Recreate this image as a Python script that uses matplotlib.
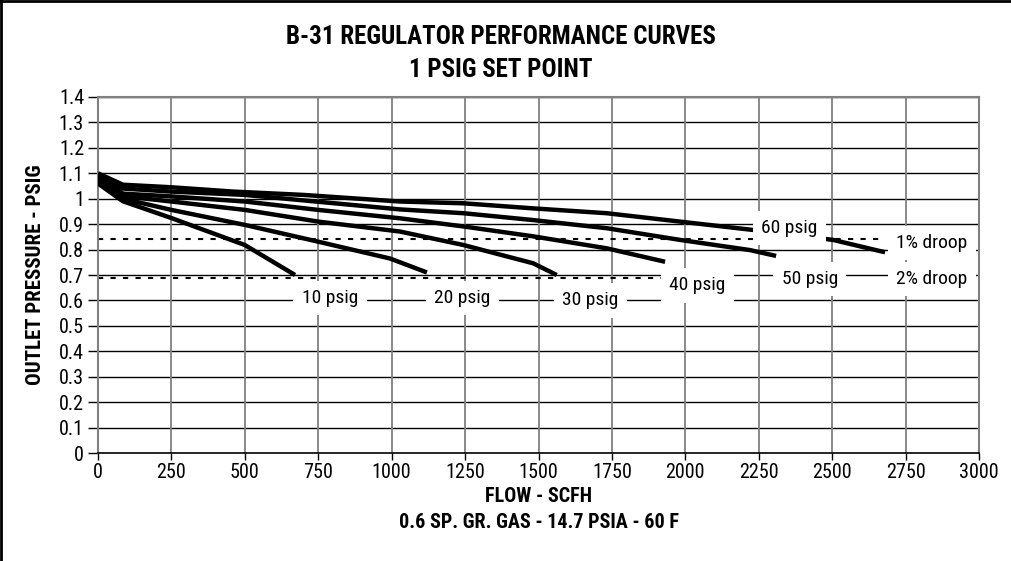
"""
B-31 regulator performance curves, 1 psig set point.
Outlet pressure vs flow for several inlet pressures, with 1% / 2% droop lines.
"""

import matplotlib
matplotlib.use("Agg")
import matplotlib.pyplot as plt
from matplotlib.font_manager import findfont, FontProperties

# --- data ----------------------------------------------------------------
inlet_labels = ["10 psig", "20 psig", "30 psig", "40 psig", "50 psig", "60 psig"]

flow_10 = [0, 85, 250, 500, 671]
psig_10 = [1.06, 0.99, 0.924, 0.818, 0.70]

flow_20 = [0, 85, 250, 500, 750, 994, 1120]
psig_20 = [1.07, 1.00, 0.956, 0.897, 0.831, 0.765, 0.71]

flow_30 = [0, 85, 250, 500, 750, 1028, 1244, 1482, 1562]
psig_30 = [1.08, 1.01, 0.989, 0.956, 0.910, 0.871, 0.818, 0.746, 0.70]

flow_40 = [0, 85, 250, 500, 750, 1028, 1244, 1482, 1732, 1931]
psig_40 = [1.085, 1.02, 1.009, 0.989, 0.956, 0.923, 0.891, 0.852, 0.805, 0.752]

flow_50 = [0, 85, 250, 500, 750, 1028, 1244, 1482, 1732, 1982, 2220, 2309]
psig_50 = [1.09, 1.04, 1.028, 1.015, 0.988, 0.958, 0.943, 0.916, 0.884, 0.838, 0.798, 0.775]

flow_60 = [0, 85, 250, 461, 699, 1028, 1244, 1482, 1732, 1982, 2231, 2503, 2663, 2680]
psig_60 = [1.10, 1.055, 1.045, 1.028, 1.015, 0.989, 0.982, 0.962, 0.943, 0.91, 0.877, 0.838, 0.794, 0.79]

droop_1_flow = [0, 2670]
droop_1_psig = [0.84, 0.84]
droop_2_flow = [0, 1940]
droop_2_psig = [0.69, 0.69]

x_ticks = [0, 250, 500, 750, 1000, 1250, 1500, 1750, 2000, 2250, 2500, 2750, 3000]
y_ticks = [0, 0.1, 0.2, 0.3, 0.4, 0.5, 0.6, 0.7, 0.8, 0.9, 1.0, 1.1, 1.2, 1.3, 1.4]
y_tick_labels = ["0", "0.1", "0.2", "0.3", "0.4", "0.5", "0.6", "0.7", "0.8", "0.9",
                 "1", "1.1", "1.2", "1.3", "1.4"]

# label anchors (flow, pressure) for curve / droop annotations
label_pos = {
    "10 psig": (790, 0.61),
    "20 psig": (1240, 0.61),
    "30 psig": (1676, 0.60),
    "40 psig": (2040, 0.66),
    "50 psig": (2424, 0.684),
    "60 psig": (2355, 0.885),
    "1% droop": (2840, 0.826),
    "2% droop": (2840, 0.684),
}

# --- fonts: prefer a narrow sans to mimic the condensed original ---------
FAMILY = "DejaVu Sans"
for cand in ["Liberation Sans Narrow", "Roboto Condensed", "Open Sans Condensed"]:
    try:
        findfont(FontProperties(family=cand), fallback_to_default=False)
        FAMILY = cand
        break
    except Exception:
        continue
plt.rcParams["font.family"] = [FAMILY, "DejaVu Sans"]

fig = plt.figure(figsize=(10.11, 5.61), dpi=100)
ax = fig.add_axes([0.0969, 0.1925, 0.8715, 0.6346])

# grid: black horizontal, gray vertical
for y in y_ticks[1:]:
    ax.axhline(y, color="black", lw=1.0, zorder=1)
for x in x_ticks[1:]:
    ax.axvline(x, color="#808080", lw=1.3, zorder=1)

ax.plot(droop_1_flow, droop_1_psig, color="black", lw=1.5, ls=(0, (2.5, 3.5)), zorder=2)
ax.plot(droop_2_flow, droop_2_psig, color="black", lw=1.5, ls=(0, (2.5, 3.5)), zorder=2)

curves = [(flow_10, psig_10), (flow_20, psig_20), (flow_30, psig_30),
          (flow_40, psig_40), (flow_50, psig_50), (flow_60, psig_60)]
for fx, fy in curves:
    ax.plot(fx, fy, color="black", lw=3.2, solid_capstyle="butt", zorder=3)

for name, (lx, ly) in label_pos.items():
    ax.text(lx, ly, name, ha="center", va="center", fontsize=14, zorder=5,
            bbox=dict(facecolor="white", edgecolor="none", pad=6))

ax.set_xlim(0, 3000)
ax.set_ylim(0, 1.4)
ax.set_xticks(x_ticks)
ax.set_yticks(y_ticks)
ax.set_yticklabels(y_tick_labels)
ax.tick_params(axis="y", direction="out", length=7, width=1, labelsize=14.5, pad=3)
ax.tick_params(axis="x", direction="out", length=5, width=1, labelsize=14.5, pad=2)

for side in ["top", "right", "left"]:
    ax.spines[side].set_color("#808080")
    ax.spines[side].set_linewidth(1.5)
ax.spines["bottom"].set_color("black")
ax.spines["bottom"].set_linewidth(1.2)

ax.set_ylabel("OUTLET PRESSURE - PSIG", fontsize=15, fontweight="bold", labelpad=10)

fig.text(0.495, 0.934, "B-31 REGULATOR PERFORMANCE CURVES", ha="center", va="center",
         fontsize=18, fontweight="bold")
fig.text(0.495, 0.875, "1 PSIG SET POINT", ha="center", va="center",
         fontsize=18, fontweight="bold")
fig.text(0.533, 0.115, "FLOW - SCFH", ha="center", va="center",
         fontsize=14.5, fontweight="bold")
fig.text(0.533, 0.069, "0.6 SP. GR. GAS - 14.7 PSIA - 60 F", ha="center", va="center",
         fontsize=14.5, fontweight="bold")

# frame around the whole chart (only left / top visible in the crop)
fig.add_artist(plt.Line2D([0.001, 0.001], [0, 1], color="black", lw=2, transform=fig.transFigure))
fig.add_artist(plt.Line2D([0, 1], [0.999, 0.999], color="black", lw=2, transform=fig.transFigure))

plt.savefig("out.png", dpi=100)
plt.close()
